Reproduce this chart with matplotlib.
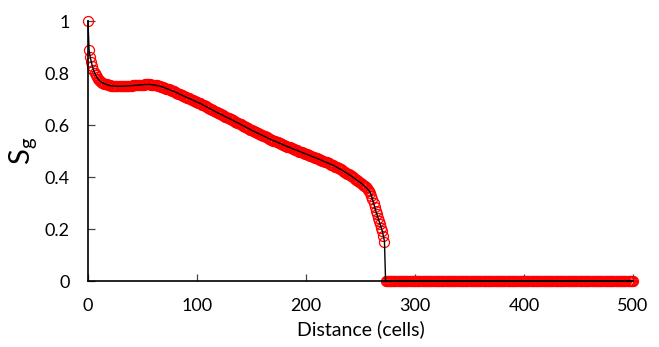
import numpy as np
import matplotlib
matplotlib.use("Agg")
import matplotlib.pyplot as plt
from matplotlib.ticker import FuncFormatter

# gas saturation, one value per cell (0..272), zero beyond
sg_front = [
    1.000, 0.888, 0.862, 0.843, 0.826, 0.812, 0.801, 0.792, 0.784, 0.778,
    0.773, 0.769, 0.766, 0.763, 0.761, 0.759, 0.757, 0.756, 0.754, 0.753,
    0.752, 0.751, 0.751, 0.750, 0.750, 0.750, 0.749, 0.749, 0.749, 0.749,
    0.749, 0.749, 0.749, 0.750, 0.750, 0.750, 0.750, 0.751, 0.751, 0.751,
    0.751, 0.752, 0.752, 0.752, 0.753, 0.753, 0.754, 0.754, 0.754, 0.755,
    0.755, 0.755, 0.756, 0.756, 0.756, 0.756, 0.756, 0.756, 0.755, 0.755,
    0.754, 0.754, 0.753, 0.752, 0.751, 0.750, 0.750, 0.748, 0.747, 0.745,
    0.744, 0.742, 0.740, 0.739, 0.737, 0.735, 0.734, 0.732, 0.730, 0.729,
    0.727, 0.725, 0.723, 0.721, 0.719, 0.717, 0.715, 0.713, 0.711, 0.709,
    0.707, 0.705, 0.703, 0.702, 0.700, 0.698, 0.696, 0.694, 0.692, 0.690,
    0.688, 0.686, 0.685, 0.683, 0.681, 0.678, 0.676, 0.674, 0.672, 0.669,
    0.667, 0.665, 0.663, 0.660, 0.658, 0.656, 0.654, 0.651, 0.649, 0.647,
    0.645, 0.643, 0.641, 0.639, 0.637, 0.634, 0.632, 0.630, 0.628, 0.626,
    0.624, 0.622, 0.620, 0.618, 0.615, 0.613, 0.611, 0.609, 0.607, 0.605,
    0.603, 0.600, 0.598, 0.596, 0.594, 0.591, 0.589, 0.587, 0.585, 0.582,
    0.580, 0.578, 0.576, 0.574, 0.572, 0.570, 0.568, 0.566, 0.564, 0.562,
    0.560, 0.558, 0.556, 0.554, 0.552, 0.550, 0.548, 0.546, 0.544, 0.542,
    0.540, 0.538, 0.537, 0.535, 0.533, 0.531, 0.530, 0.528, 0.526, 0.524,
    0.522, 0.521, 0.519, 0.517, 0.515, 0.514, 0.512, 0.510, 0.508, 0.507,
    0.505, 0.503, 0.502, 0.500, 0.498, 0.497, 0.495, 0.493, 0.492, 0.490,
    0.488, 0.487, 0.485, 0.483, 0.482, 0.480, 0.478, 0.477, 0.475, 0.473,
    0.472, 0.470, 0.468, 0.466, 0.465, 0.463, 0.461, 0.459, 0.457, 0.456,
    0.454, 0.452, 0.450, 0.448, 0.447, 0.445, 0.443, 0.440, 0.438, 0.436,
    0.433, 0.431, 0.429, 0.426, 0.424, 0.421, 0.419, 0.416, 0.413, 0.411,
    0.408, 0.405, 0.402, 0.399, 0.396, 0.393, 0.390, 0.387, 0.384, 0.381,
    0.378, 0.375, 0.371, 0.367, 0.364, 0.360, 0.356, 0.351, 0.346, 0.340,
    0.328, 0.314, 0.300, 0.285, 0.270, 0.257, 0.244, 0.231, 0.218, 0.205,
    0.192, 0.173, 0.151,
]
sg_ahead = [0.0] * 228  # cells 273..500

sg = np.array(sg_front + sg_ahead)
cells = np.arange(len(sg))

xticks = [0, 100, 200, 300, 400, 500]
yticks = [0, 0.2, 0.4, 0.6, 0.8, 1.0]

plt.rcParams['font.family'] = ['Lato', 'DejaVu Sans']
plt.rcParams['mathtext.fontset'] = 'custom'
plt.rcParams['mathtext.rm'] = 'Lato'

fig = plt.figure(figsize=(6.59, 3.47), dpi=100)
ax = fig.add_axes([88 / 659, 66 / 347, 545 / 659, 260 / 347])

ax.plot(cells, sg, linestyle='none', marker='o', markersize=7.2,
        markerfacecolor='none', markeredgecolor='#ff0000', markeredgewidth=0.9,
        clip_on=False, zorder=2)
ax.plot(cells, sg, color='black', linewidth=1.0, clip_on=False, zorder=3)

ax.set_xlim(0, 500)
ax.set_ylim(0, 1)
ax.set_xticks(xticks)
ax.set_yticks(yticks)
ax.yaxis.set_major_formatter(FuncFormatter(lambda v, p: f"{v:g}"))

for side in ['top', 'right']:
    ax.spines[side].set_visible(False)
for side in ['left', 'bottom']:
    ax.spines[side].set_linewidth(1.2)
    ax.spines[side].set_color('black')

ax.tick_params(direction='in', length=5, width=0.9, colors='#444444',
               labelsize=13, labelcolor='black')
ax.tick_params(axis='y', pad=13)
ax.tick_params(axis='x', pad=12)

ax.set_xlabel('Distance (cells)', fontsize=14, labelpad=5)
ax.set_ylabel(r'$\mathregular{S_g}$', fontsize=21, labelpad=4)

fig.savefig('out.png', dpi=100)
